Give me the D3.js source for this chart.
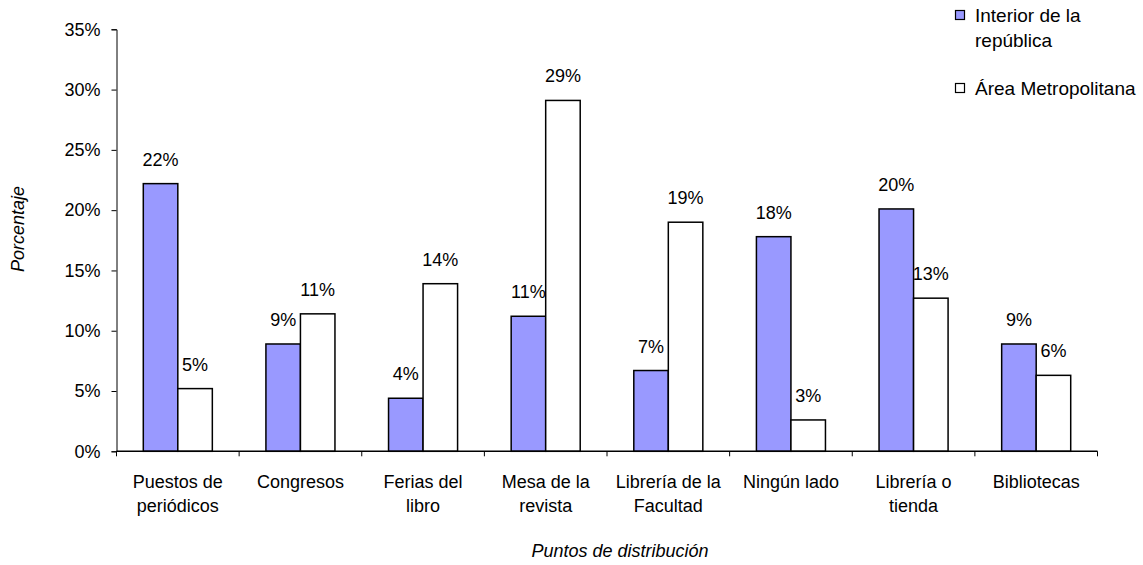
<!DOCTYPE html>
<html>
<head>
<meta charset="utf-8">
<script src="https://cdn.jsdelivr.net/npm/d3@7"></script>
<style>
  html, body { margin: 0; padding: 0; background: #fff; }
  svg { display: block; }
  text { font-family: "Liberation Sans", Arial, sans-serif; fill: #000; }
</style>
</head>
<body>
<svg id="chart" width="1143" height="565"></svg>
<script>
// Distribution points (two-line labels) and shares per region
const categories = [
  ["Puestos de", "periódicos"],
  ["Congresos"],
  ["Ferias del", "libro"],
  ["Mesa de la", "revista"],
  ["Librería de la", "Facultad"],
  ["Ningún lado"],
  ["Librería o", "tienda"],
  ["Bibliotecas"]
];
const seriesNames = ["Interior de la república", "Área Metropolitana"];
const interior = [0.222, 0.089, 0.044, 0.112, 0.067, 0.178, 0.201, 0.089];
const metropolitana = [0.052, 0.114, 0.139, 0.291, 0.190, 0.026, 0.127, 0.063];
const yTicks = [0, 0.05, 0.10, 0.15, 0.20, 0.25, 0.30, 0.35];

const colors = ["#9999FF", "#FFFFFF"];
const FS = 18;
const svg = d3.select("#chart");

const margin = { left: 116.5, right: 45.5, top: 29.3, bottom: 113.7 };
const W = 1143, H = 565;
const x0 = margin.left, x1 = W - margin.right;
const yTop = margin.top, yBot = H - margin.bottom;

const x = d3.scaleBand().domain(d3.range(categories.length)).range([x0, x1]);
const inner = d3.scaleBand().domain([0, 1]).range([0, x.bandwidth() * 0.563]);
const innerOffset = (x.bandwidth() - inner.range()[1]) / 2;
const y = d3.scaleLinear().domain([0, 0.35]).range([yBot, yTop]);
const fmt = d3.format(".0%");

// Bars
const rows = categories.map((c, i) => [interior[i], metropolitana[i]]);
const groups = svg.append("g").selectAll("g").data(rows).join("g")
  .attr("transform", (d, i) => `translate(${x(i) + innerOffset},0)`);
groups.selectAll("rect").data(d => d.map((v, s) => ({ v, s }))).join("rect")
  .attr("x", d => inner(d.s))
  .attr("y", d => y(d.v))
  .attr("width", inner.bandwidth())
  .attr("height", d => yBot - y(d.v))
  .attr("fill", d => colors[d.s])
  .attr("stroke", "#000")
  .attr("stroke-width", 1.5);

// Value labels
groups.selectAll("text.val").data(d => d.map((v, s) => ({ v, s }))).join("text")
  .attr("class", "val")
  .attr("x", d => inner(d.s) + inner.bandwidth() / 2)
  .attr("y", d => y(d.v) - 18)
  .attr("text-anchor", "middle")
  .attr("font-size", FS)
  .text(d => fmt(d.v));

// Y axis
const yAxis = svg.append("g")
  .attr("transform", `translate(${x0},0)`)
  .call(d3.axisLeft(y).tickValues(yTicks).tickFormat(fmt).tickSize(5).tickPadding(11));
yAxis.select(".domain").attr("stroke", "#000").attr("stroke-width", 1);
yAxis.selectAll("text").attr("font-size", FS).attr("font-family", "Liberation Sans, Arial, sans-serif").attr("fill", "#000");

// X axis line and category separators
svg.append("line").attr("x1", x0).attr("x2", x1).attr("y1", yBot).attr("y2", yBot)
  .attr("stroke", "#000").attr("stroke-width", 1.5);
svg.append("g").selectAll("line").data(d3.range(categories.length + 1)).join("line")
  .attr("x1", i => x0 + i * x.step()).attr("x2", i => x0 + i * x.step())
  .attr("y1", yBot).attr("y2", yBot + 5)
  .attr("stroke", "#000").attr("stroke-width", 1);

// Category labels
const cat = svg.append("g").selectAll("text").data(categories).join("text")
  .attr("text-anchor", "middle")
  .attr("font-size", FS)
  .attr("x", (d, i) => x(i) + x.bandwidth() / 2)
  .attr("y", 487.5);
cat.selectAll("tspan").data(d => d).join("tspan")
  .attr("x", function () { return this.parentNode.getAttribute("x"); })
  .attr("dy", (d, j) => j === 0 ? 0 : 24.5)
  .text(d => d);

// Axis titles
svg.append("text")
  .attr("x", 620).attr("y", 557)
  .attr("text-anchor", "middle").attr("font-size", FS).attr("font-style", "italic")
  .text("Puntos de distribución");
svg.append("text")
  .attr("transform", "translate(24,229) rotate(-90)")
  .attr("text-anchor", "middle").attr("font-size", FS).attr("font-style", "italic")
  .text("Porcentaje");

// Legend
const legend = svg.append("g");
const legendRows = [
  { s: 0, lines: ["Interior de la", "república"], y: 22 },
  { s: 1, lines: ["Área Metropolitana"], y: 95 }
];
legendRows.forEach(r => {
  legend.append("rect")
    .attr("x", 955.5).attr("y", r.y - 11.5).attr("width", 9).attr("height", 9)
    .attr("fill", colors[r.s]).attr("stroke", "#000").attr("stroke-width", 1.2);
  const t = legend.append("text").attr("x", 975).attr("y", r.y).attr("font-size", 19);
  t.selectAll("tspan").data(r.lines).join("tspan")
    .attr("x", 975).attr("dy", (d, j) => j === 0 ? 0 : 25).text(d => d);
});
</script>
</body>
</html>
